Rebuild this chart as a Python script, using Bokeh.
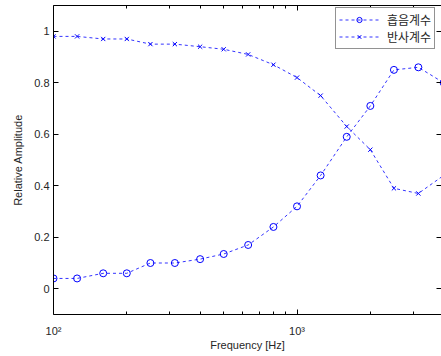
from bokeh.plotting import figure
from bokeh.models import FixedTicker, LogAxis, LinearAxis, Legend, LegendItem
from bokeh.embed import file_html
from bokeh.resources import INLINE

# Data (1/3-octave band centre frequencies)
freqs = [100, 125, 160, 200, 250, 315, 400, 500, 630, 800, 1000, 1250, 1600, 2000, 2500, 3150, 4000]
absorption = [0.04, 0.04, 0.06, 0.06, 0.10, 0.10, 0.115, 0.135, 0.17, 0.24, 0.32, 0.44, 0.59, 0.71, 0.85, 0.86, 0.80]
reflection = [0.98, 0.98, 0.97, 0.97, 0.95, 0.95, 0.94, 0.93, 0.91, 0.87, 0.82, 0.75, 0.63, 0.54, 0.39, 0.37, 0.44]

series_labels = ["흡음계수", "반사계수"]
x_major = [100, 1000]
x_major_labels = ["10²", "10³"]
x_minor = [200, 300, 400, 500, 600, 700, 800, 900, 2000, 3000, 4000]
y_major = [0, 0.2, 0.4, 0.6, 0.8, 1.0]
y_major_labels = ["0", "0.2", "0.4", "0.6", "0.8", "1"]

FONT = "Liberation Sans"
TXT = "#262626"
BLUE = "#0000ff"

p = figure(width=441, height=356, x_axis_type="log",
           x_range=(100, 3920), y_range=(-0.1, 1.1),
           output_backend="svg", toolbar_location=None,
           min_border_left=53, min_border_right=0,
           min_border_top=5, min_border_bottom=42,
           outline_line_color=None, background_fill_color="white",
           border_fill_color="white")
p.xgrid.visible = False
p.ygrid.visible = False

xticker = FixedTicker(ticks=x_major, minor_ticks=x_minor)
yticker = FixedTicker(ticks=y_major, minor_ticks=[])

def style(ax, labels=True):
    ax.major_tick_in = 5
    ax.major_tick_out = 0
    ax.minor_tick_in = 3
    ax.minor_tick_out = 0
    ax.major_tick_line_color = "black"
    ax.minor_tick_line_color = "black"
    ax.axis_line_color = "black"
    if labels:
        ax.major_label_text_font = FONT
        ax.major_label_text_font_size = "11px"
        ax.major_label_text_color = TXT
        ax.axis_label_text_font = FONT
        ax.axis_label_text_font_size = "11px"
        ax.axis_label_text_font_style = "normal"
        ax.axis_label_text_color = TXT
    else:
        ax.major_label_text_font_size = "1px"
        ax.major_label_text_alpha = 0
        ax.major_label_standoff = 0

xa = p.xaxis[0]
xa.ticker = xticker
style(xa)
xa.major_label_overrides = {t: s for t, s in zip(x_major, x_major_labels)}
xa.major_label_standoff = 10
xa.axis_label = "Frequency [Hz]"
xa.axis_label_standoff = -1

ya = p.yaxis[0]
ya.ticker = yticker
style(ya)
ya.major_label_overrides = {t: s for t, s in zip(y_major, y_major_labels)}
ya.major_label_standoff = 4
ya.axis_label = "Relative Amplitude"
ya.axis_label_standoff = 7

top = LogAxis(ticker=xticker)
style(top, labels=False)
p.add_layout(top, "above")

right = LinearAxis(ticker=yticker)
style(right, labels=False)
right.axis_line_color = None
p.add_layout(right, "right")

l1 = p.line(freqs, absorption, line_color=BLUE, line_dash="3 3", line_width=1, line_alpha=0.8)
s1 = p.scatter(freqs, absorption, marker="circle", size=7, line_color=BLUE,
               fill_color=None, line_width=1)
l2 = p.line(freqs, reflection, line_color=BLUE, line_dash="3 3", line_width=1, line_alpha=0.8)
s2 = p.scatter(freqs, reflection, marker="x", size=6, line_color=BLUE, line_width=1)

legend = Legend(items=[LegendItem(label=series_labels[0], renderers=[l1, s1]),
                       LegendItem(label=series_labels[1], renderers=[l2, s2])],
                location=(282, 265), margin=0, padding=3, spacing=0,
                glyph_width=40, glyph_height=13, label_height=13,
                label_standoff=8,
                label_text_font="Noto Sans CJK KR",
                label_text_font_size="12px",
                label_text_color=TXT, border_line_color="#262626",
                border_line_width=1, background_fill_color="white",
                background_fill_alpha=1)
p.add_layout(legend, "center")

open("out.html", "w").write(file_html(p, INLINE))
